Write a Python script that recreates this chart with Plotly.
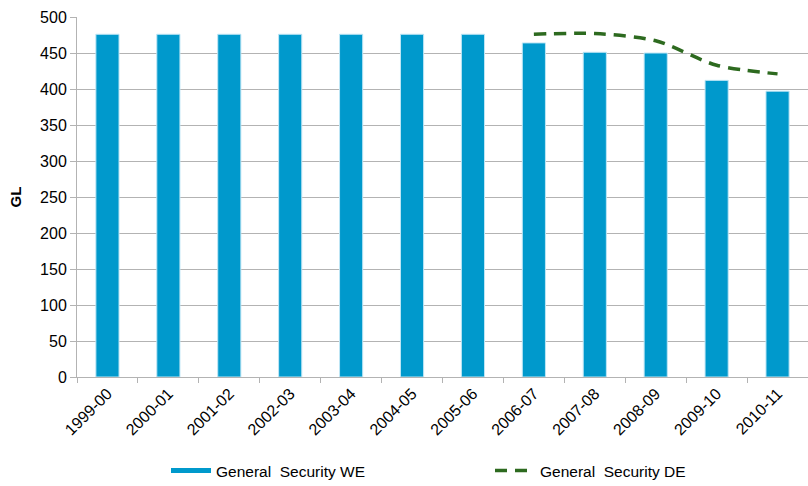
import plotly.graph_objects as go

categories = ["1999-00", "2000-01", "2001-02", "2002-03", "2003-04", "2004-05",
              "2005-06", "2006-07", "2007-08", "2008-09", "2009-10", "2010-11"]
we_values = [476, 476, 476, 476, 476, 476, 476, 464, 451, 450, 412, 397]
de_categories = ["2006-07", "2007-08", "2008-09", "2009-10", "2010-11"]
de_values = [476, 477, 467, 433, 421]

bar_color = "#0099CC"
line_color = "#2D6A1F"
grid_color = "#B3B3B3"
font_family = "Liberation Sans, Arial, sans-serif"

fig = go.Figure()
fig.add_trace(go.Bar(
    x=categories, y=we_values, name="General  Security WE",
    marker=dict(color=bar_color, line=dict(color="#BFE6F5", width=1)),
    showlegend=False,
))
fig.add_trace(go.Scatter(
    x=[None], y=[None], mode="lines", name="General  Security WE",
    line=dict(color=bar_color, width=5), legend="legend",
))
fig.add_trace(go.Scatter(
    x=de_categories, y=de_values, mode="lines", name="General  Security DE",
    line=dict(color=line_color, width=3.5, dash="12px,8px", shape="spline", smoothing=0.8),
    legend="legend2",
))

fig.update_layout(
    width=808, height=486,
    margin=dict(l=77, r=0, t=17, b=109, autoexpand=False),
    plot_bgcolor="white", paper_bgcolor="white",
    font=dict(family=font_family, size=15, color="#000000"),
    bargap=0.62,
    legend=dict(x=(166 - 77) / 731, xanchor="left", y=-94 / 360, yanchor="middle",
                font=dict(size=15.5), itemwidth=40, bgcolor="rgba(0,0,0,0)"),
    legend2=dict(x=(490 - 77) / 731, xanchor="left", y=-94 / 360, yanchor="middle",
                 font=dict(size=15.5), itemwidth=40, bgcolor="rgba(0,0,0,0)"),
    xaxis=dict(type="category", categoryorder="array", categoryarray=categories,
               tickangle=-45, showgrid=False, showline=True, linecolor=grid_color,
               ticks="outside", tickson="boundaries", ticklen=5, tickcolor=grid_color,
               tickfont=dict(size=16), range=[-0.5, 11.5]),
    yaxis=dict(range=[0, 500], dtick=50, showgrid=True, gridcolor=grid_color, gridwidth=1,
               showline=True, linecolor=grid_color, ticks="outside", ticklen=6,
               tickcolor=grid_color, zeroline=False, tickfont=dict(size=16),
               title=dict(text="<b>GL</b>", font=dict(size=15), standoff=14)),
)

fig.write_html("out.html")
